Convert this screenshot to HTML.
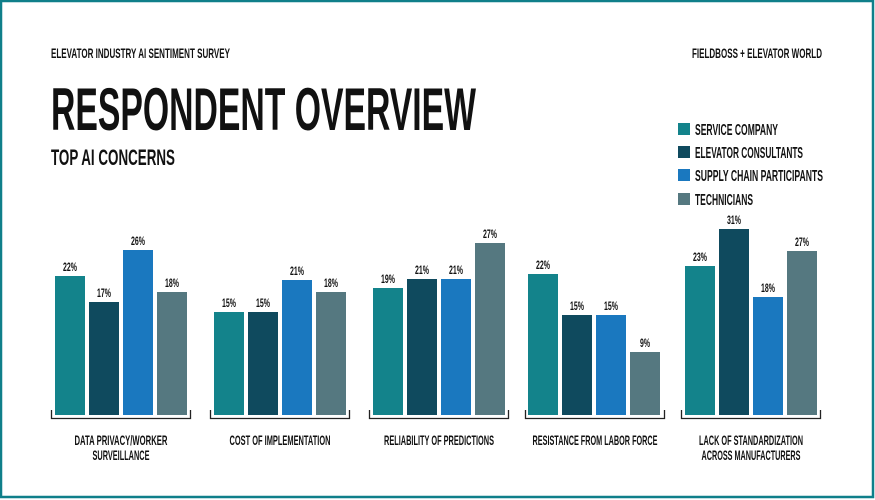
<!DOCTYPE html>
<html><head><meta charset="utf-8"><style>
html,body{margin:0;padding:0;background:#fff}
svg{display:block}
text{font-family:"Liberation Sans Narrow","Liberation Sans",sans-serif;font-weight:bold;fill:#111}
</style></head><body>
<svg width="875" height="500" viewBox="0 0 875 500" xmlns="http://www.w3.org/2000/svg">
<rect x="0" y="0" width="875" height="500" fill="#fff"/>
<rect x="1" y="1" width="872" height="496" fill="none" stroke="#0f7f8a" stroke-width="2.5"/>
<text x="51" y="58" font-size="14" textLength="179" lengthAdjust="spacingAndGlyphs">ELEVATOR INDUSTRY AI SENTIMENT SURVEY</text>
<text x="692" y="58" font-size="14" textLength="130" lengthAdjust="spacingAndGlyphs">FIELDBOSS + ELEVATOR WORLD</text>
<text x="51" y="130" font-size="60" textLength="425" lengthAdjust="spacingAndGlyphs">RESPONDENT OVERVIEW</text>
<text x="51" y="165" font-size="22" textLength="124" lengthAdjust="spacingAndGlyphs">TOP AI CONCERNS</text>
<rect x="678" y="123" width="12" height="12" fill="#13838b"/>
<rect x="678" y="146" width="12" height="12" fill="#0f4a5e"/>
<rect x="678" y="169" width="12" height="12" fill="#1a78bf"/>
<rect x="678" y="193" width="12" height="12" fill="#557880"/>
<text x="695" y="135" font-size="15.5" textLength="83" lengthAdjust="spacingAndGlyphs">SERVICE COMPANY</text>
<text x="695" y="158" font-size="15.5" textLength="108" lengthAdjust="spacingAndGlyphs">ELEVATOR CONSULTANTS</text>
<text x="695" y="181" font-size="15.5" textLength="128" lengthAdjust="spacingAndGlyphs">SUPPLY CHAIN PARTICIPANTS</text>
<text x="695" y="205" font-size="15.5" textLength="58" lengthAdjust="spacingAndGlyphs">TECHNICIANS</text>
<g fill="none" stroke="#222" stroke-width="1.3">
<path d="M51.5 410V418.5H190.5V410"/>
<path d="M210.5 410V418.5H349.5V410"/>
<path d="M369.5 410V418.5H508.5V410"/>
<path d="M525.5 410V418.5H664.5V410"/>
<path d="M681.5 410V418.5H820.5V410"/>
</g>
<g font-size="14" text-anchor="middle">
<text x="121" y="445" textLength="93" lengthAdjust="spacingAndGlyphs">DATA PRIVACY/WORKER</text>
<text x="121" y="460" textLength="57" lengthAdjust="spacingAndGlyphs">SURVEILLANCE</text>
<text x="280" y="445" textLength="101" lengthAdjust="spacingAndGlyphs">COST OF IMPLEMENTATION</text>
<text x="439" y="445" textLength="110" lengthAdjust="spacingAndGlyphs">RELIABILITY OF PREDICTIONS</text>
<text x="595" y="445" textLength="125" lengthAdjust="spacingAndGlyphs">RESISTANCE FROM LABOR FORCE</text>
<text x="751" y="445" textLength="104" lengthAdjust="spacingAndGlyphs">LACK OF STANDARDIZATION</text>
<text x="751" y="460" textLength="99" lengthAdjust="spacingAndGlyphs">ACROSS MANUFACTURERS</text>
</g>
<g>
<rect x="55" y="276" width="30" height="139" fill="#13838b"/>
<rect x="89" y="302" width="30" height="113" fill="#0f4a5e"/>
<rect x="123" y="250" width="30" height="165" fill="#1a78bf"/>
<rect x="157" y="292" width="30" height="123" fill="#557880"/>
<rect x="214" y="312" width="30" height="103" fill="#13838b"/>
<rect x="248" y="312" width="30" height="103" fill="#0f4a5e"/>
<rect x="282" y="280" width="30" height="135" fill="#1a78bf"/>
<rect x="316" y="292" width="30" height="123" fill="#557880"/>
<rect x="373" y="288" width="30" height="127" fill="#13838b"/>
<rect x="407" y="279" width="30" height="136" fill="#0f4a5e"/>
<rect x="441" y="279" width="30" height="136" fill="#1a78bf"/>
<rect x="475" y="243" width="30" height="172" fill="#557880"/>
<rect x="528" y="274" width="30" height="141" fill="#13838b"/>
<rect x="562" y="315" width="30" height="100" fill="#0f4a5e"/>
<rect x="596" y="315" width="30" height="100" fill="#1a78bf"/>
<rect x="630" y="352" width="30" height="63" fill="#557880"/>
<rect x="685" y="266" width="30" height="149" fill="#13838b"/>
<rect x="719" y="229" width="30" height="186" fill="#0f4a5e"/>
<rect x="753" y="297" width="30" height="118" fill="#1a78bf"/>
<rect x="787" y="251" width="30" height="164" fill="#557880"/>
</g>
<g font-size="12" text-anchor="middle" lengthAdjust="spacingAndGlyphs">
<text x="70" y="271" textLength="14" lengthAdjust="spacingAndGlyphs">22%</text><text x="104" y="297" textLength="14" lengthAdjust="spacingAndGlyphs">17%</text><text x="138" y="245" textLength="14" lengthAdjust="spacingAndGlyphs">26%</text><text x="172" y="287" textLength="14" lengthAdjust="spacingAndGlyphs">18%</text>
<text x="229" y="307" textLength="14" lengthAdjust="spacingAndGlyphs">15%</text><text x="263" y="307" textLength="14" lengthAdjust="spacingAndGlyphs">15%</text><text x="297" y="275" textLength="14" lengthAdjust="spacingAndGlyphs">21%</text><text x="331" y="287" textLength="14" lengthAdjust="spacingAndGlyphs">18%</text>
<text x="388" y="283" textLength="14" lengthAdjust="spacingAndGlyphs">19%</text><text x="422" y="274" textLength="14" lengthAdjust="spacingAndGlyphs">21%</text><text x="456" y="274" textLength="14" lengthAdjust="spacingAndGlyphs">21%</text><text x="490" y="238" textLength="14" lengthAdjust="spacingAndGlyphs">27%</text>
<text x="543" y="269" textLength="14" lengthAdjust="spacingAndGlyphs">22%</text><text x="577" y="310" textLength="14" lengthAdjust="spacingAndGlyphs">15%</text><text x="611" y="310" textLength="14" lengthAdjust="spacingAndGlyphs">15%</text><text x="645" y="347" textLength="10" lengthAdjust="spacingAndGlyphs">9%</text>
<text x="700" y="261" textLength="14" lengthAdjust="spacingAndGlyphs">23%</text><text x="734" y="224" textLength="14" lengthAdjust="spacingAndGlyphs">31%</text><text x="768" y="292" textLength="14" lengthAdjust="spacingAndGlyphs">18%</text><text x="802" y="246" textLength="14" lengthAdjust="spacingAndGlyphs">27%</text>
</g>
</svg>
</body></html>
